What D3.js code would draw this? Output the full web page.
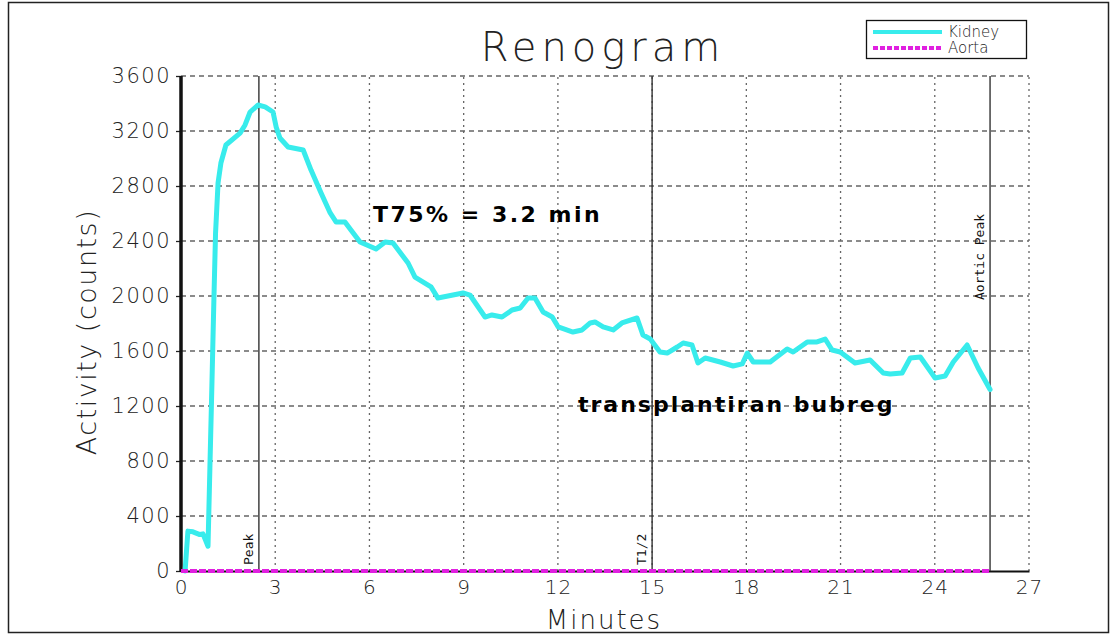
<!DOCTYPE html>
<html><head><meta charset="utf-8">
<script src="https://cdn.jsdelivr.net/npm/d3@7"></script>
<style>
html,body{margin:0;padding:0;background:#fff;}
svg{display:block;}
</style></head>
<body>
<svg id="chart" width="1118" height="642"></svg>
<script>
// ---- data ----
const kidneyTime = [0.13,0.22,0.38,0.60,0.70,0.86,0.92,0.98,1.05,1.10,1.18,1.27,1.43,1.88,2.04,2.20,2.45,2.68,2.93,3.03,3.15,3.41,3.89,4.14,4.46,4.75,4.94,5.22,5.41,5.70,6.21,6.50,6.75,7.23,7.45,7.96,8.18,8.98,9.20,9.68,9.90,10.22,10.54,10.80,11.05,11.27,11.53,11.82,12.01,12.48,12.77,13.03,13.18,13.44,13.76,14.04,14.52,14.71,14.94,15.25,15.48,15.80,15.99,16.27,16.46,16.69,17.17,17.58,17.87,18.03,18.22,18.76,19.30,19.49,19.94,20.25,20.51,20.73,20.99,21.46,21.94,22.36,22.58,22.96,23.22,23.54,24.01,24.33,24.59,25.03,25.38,25.76];
const kidneyCounts = [0,290,285,265,270,180,750,1316,2000,2458,2822,2967,3098,3185,3244,3338,3389,3375,3338,3229,3149,3084,3062,2916,2749,2604,2538,2538,2480,2393,2342,2393,2385,2240,2138,2066,1985,2022,2007,1847,1862,1847,1898,1913,1985,1985,1884,1847,1775,1738,1753,1804,1811,1775,1753,1804,1840,1716,1687,1593,1585,1629,1658,1644,1513,1549,1520,1491,1506,1585,1520,1520,1615,1593,1666,1666,1687,1607,1593,1513,1535,1440,1433,1440,1549,1556,1404,1418,1520,1644,1476,1320];
const aortaTime = [0,25.76];
const aortaCounts = [0,0];
const xTicks = [0,3,6,9,12,15,18,21,24,27];
const yTicks = [0,400,800,1200,1600,2000,2400,2800,3200,3600];
const markerTimes = [2.48,15.0,25.76];
const markerLabels = ["Peak","T1/2","Aortic Peak"];
const seriesNames = ["Kidney","Aorta"];
const seriesColors = ["#38ECEC","#E020E0"];

// ---- layout ----
const svg = d3.select("#chart");
const x = d3.scaleLinear().domain([0,27]).range([181,1029]);
const y = d3.scaleLinear().domain([0,3600]).range([571,76]);
const FONT = "'DejaVu Sans', sans-serif";

// outer frame
svg.append("rect").attr("x",8.5).attr("y",2.5).attr("width",1100).attr("height",630)
  .attr("fill","none").attr("stroke","#222").attr("stroke-width",1.5);

// grid
const g = svg.append("g");
g.selectAll(".hg").data(yTicks.filter(d=>d>0)).join("line")
  .attr("x1",x(0)).attr("x2",x(27)).attr("y1",d=>y(d)).attr("y2",d=>y(d))
  .attr("stroke","#666").attr("stroke-width",1.3).attr("stroke-dasharray","5,4");
g.selectAll(".vg").data(xTicks.filter(d=>d>0)).join("line")
  .attr("x1",d=>x(d)).attr("x2",d=>x(d)).attr("y1",y(0)).attr("y2",y(3600))
  .attr("stroke","#666").attr("stroke-width",1.3).attr("stroke-dasharray","2,4");

// axes
const yAxis = svg.append("g").attr("transform",`translate(${x(0)},0)`)
  .call(d3.axisLeft(y).tickValues(yTicks).tickFormat(d3.format("d")).tickSize(5).tickPadding(5));
yAxis.select(".domain").remove();
yAxis.selectAll("line").attr("stroke","#222").attr("stroke-width",1.3);
yAxis.selectAll("text").attr("font-family",FONT).attr("font-weight",300).attr("font-size",21)
  .attr("letter-spacing",1.5).attr("fill","#222");

const xAxis = svg.append("g").attr("transform",`translate(0,${y(0)})`)
  .call(d3.axisBottom(x).tickValues(xTicks).tickFormat(d3.format("d")).tickSize(0).tickPadding(9));
xAxis.select(".domain").attr("stroke","#111").attr("stroke-width",2);
xAxis.selectAll("text").attr("font-family",FONT).attr("font-weight",300).attr("font-size",20)
  .attr("letter-spacing",1).attr("fill","#222");

svg.append("line").attr("x1",x(0)).attr("x2",x(0)).attr("y1",y(0)+1).attr("y2",y(3600))
  .attr("stroke","#111").attr("stroke-width",3.5);

// marker lines
svg.selectAll(".mk").data(markerTimes).join("line")
  .attr("x1",d=>x(d)).attr("x2",d=>x(d)).attr("y1",y(0)).attr("y2",y(3600))
  .attr("stroke","#333").attr("stroke-width",1.4);
const labelBottom = [565,565,300];
svg.selectAll(".mkl").data(markerTimes).join("text")
  .attr("transform",(d,i)=>`translate(${x(d)-6},${labelBottom[i]}) rotate(-90)`)
  .attr("font-family","'DejaVu Sans Mono', monospace").attr("font-size",13)
  .attr("fill","#111").text((d,i)=>markerLabels[i]);

// series
const line = d3.line().x(d=>x(d[0])).y(d=>y(d[1]));
svg.append("path").datum(kidneyTime.map((t,i)=>[t,kidneyCounts[i]]))
  .attr("d",line).attr("fill","none").attr("stroke",seriesColors[0])
  .attr("stroke-width",5).attr("stroke-linejoin","round").attr("stroke-linecap","round");
svg.append("path").datum(aortaTime.map((t,i)=>[t,aortaCounts[i]]))
  .attr("d",line).attr("fill","none").attr("stroke",seriesColors[1])
  .attr("stroke-width",4).attr("stroke-dasharray","7,2");

// title and axis labels
svg.append("text").attr("x",603).attr("y",61).attr("text-anchor","middle")
  .attr("font-family",FONT).attr("font-weight",200).attr("font-size",40)
  .attr("letter-spacing",5).attr("fill","#222").text("Renogram");
svg.append("text").attr("x",604).attr("y",629).attr("text-anchor","middle")
  .attr("font-family",FONT).attr("font-weight",200).attr("font-size",26)
  .attr("letter-spacing",2).attr("fill","#222").text("Minutes");
svg.append("text").attr("transform","translate(96,332) rotate(-90)").attr("text-anchor","middle")
  .attr("font-family",FONT).attr("font-weight",200).attr("font-size",27)
  .attr("letter-spacing",1.5).attr("fill","#222").text("Activity (counts)");

// annotations
svg.append("text").attr("x",373).attr("y",222)
  .attr("font-family",FONT).attr("font-weight","bold").attr("font-size",22)
  .attr("letter-spacing",2.5).attr("fill","#000").text("T75% = 3.2 min");
svg.append("text").attr("x",578).attr("y",412)
  .attr("font-family",FONT).attr("font-weight","bold").attr("font-size",22)
  .attr("letter-spacing",2).attr("fill","#000").text("transplantiran bubreg");

// legend
const lg = svg.append("g");
lg.append("rect").attr("x",866.5).attr("y",20.5).attr("width",160).attr("height",38)
  .attr("fill","#fff").attr("stroke","#111").attr("stroke-width",1.3);
seriesNames.forEach((n,i)=>{
  const yy = 32 + i*16;
  lg.append("line").attr("x1",873).attr("x2",942).attr("y1",yy).attr("y2",yy)
    .attr("stroke",seriesColors[i]).attr("stroke-width",4)
    .attr("stroke-dasharray",i===0?null:"5,2");
  lg.append("text").attr("x",948).attr("y",yy+5).attr("font-family",FONT)
    .attr("font-weight",300).attr("font-size",15).attr("fill","#222").text(n);
});
</script>
</body></html>
